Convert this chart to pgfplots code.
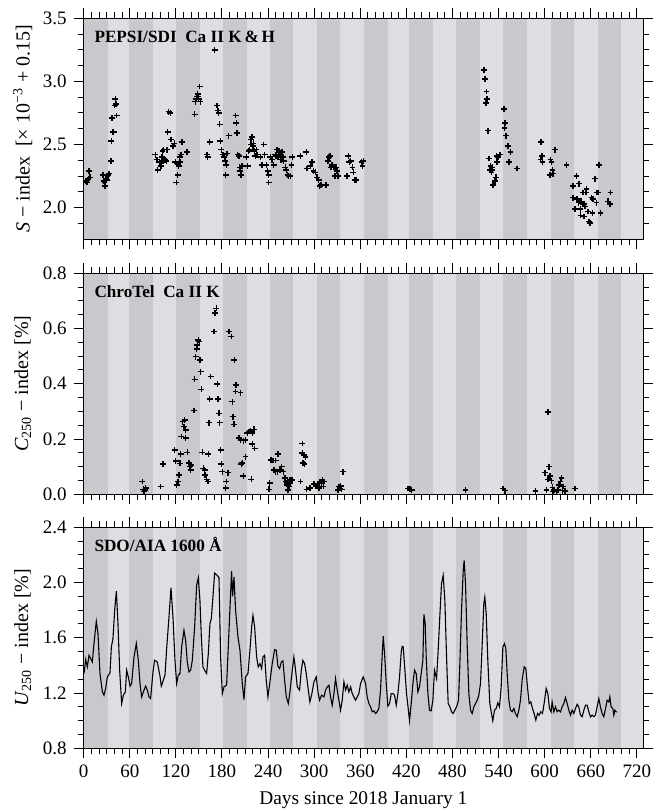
\documentclass[border=0pt]{standalone}
\usepackage{fontspec}
\setmainfont{Liberation Serif}
\usepackage{pgfplots}
\pgfplotsset{compat=1.18}
\definecolor{bandDark}{RGB}{200,201,204}
\definecolor{bandLight}{RGB}{221,222,225}
\newcommand{\band}[2]{\addplot[draw=none, fill=bandDark, forget plot] coordinates {(#1,-10) (#2,-10) (#2,10) (#1,10)} -- cycle;}
\newcommand{\bands}{%
\band{0}{31}\band{59}{90}\band{120}{151}\band{181}{212}\band{243}{273}\band{304}{334}%
\band{365}{396}\band{424}{455}\band{485}{516}\band{546}{577}\band{608}{638}\band{669}{699}}
\tikzset{ptitle/.style={anchor=base west, font=\bfseries\fontsize{8.6}{10}\selectfont, inner sep=0pt, xshift=5.2pt, yshift=-12pt}}
\pgfplotsset{
 panel/.style={
  scale only axis, width=279.65pt, height=110.5pt,
  xmin=0, xmax=728,
  xtick={0,60,...,720}, minor x tick num=5,
  tick align=outside,
  major tick length=5pt, minor tick length=3pt,
  axis background/.style={fill=bandLight},
  axis on top,
  axis line style={line width=0.5pt},
  every tick/.append style={black, line width=0.5pt},
  tick label style={font=\fontsize{9.5}{10}\selectfont},
  label style={font=\fontsize{9.7}{11}\selectfont},
  /pgf/number format/assume math mode=true,
  /pgf/number format/fixed, /pgf/number format/fixed zerofill, /pgf/number format/precision=1,
  every axis y label/.style={at={(axis description cs:-0.109,0.5)}, rotate=90, anchor=center},
 },
 pts/.style={only marks, mark=+, mark size=1.45pt, black, mark options={line width=0.75pt}},
}
\begin{document}
\begin{tikzpicture}
\useasboundingbox (0,0) rectangle (332.5pt,405pt);
% ---------------- Panel 1 ----------------
\begin{axis}[panel, at={(41.85pt,285.35pt)}, anchor=south west,
  ymin=1.75, ymax=3.5, ytick={2.0,2.5,3.0,3.5},
  minor ytick={1.875,2.125,2.25,2.375,2.625,2.75,2.875,3.125,3.25,3.375},
  xticklabels={},
  ylabel={\textit{S} − index\ \ [× 10\textsuperscript{−3} + 0.15]}]
\bands
\addplot[pts] coordinates {
(3,2.21) (4,2.20) (5,2.22) (6,2.23) (7,2.29) (8,2.24)
(25,2.26) (26,2.21) (27,2.20) (28,2.17) (29,2.23) (30,2.22) (31,2.25) (32,2.26) (33,2.27)
(35.6,2.37) (36,2.53) (37.7,2.60) (39,2.60) (37,2.71) (43,2.73) (40.3,2.81) (41.2,2.86) (42,2.82)
(93.2,2.42) (95.4,2.38) (96.3,2.30) (98.9,2.36) (100.6,2.33) (101.9,2.40) (104,2.46) (106,2.38)
(107.6,2.37) (109.3,2.60) (110.6,2.76) (112.8,2.75) (113.6,2.54) (116.2,2.49) (118,2.51) (119.3,2.36)
(120.6,2.20) (122.3,2.26) (123.6,2.33) (124.9,2.40) (126.6,2.42) (128,2.52) (134.5,2.44) (104.5,2.39)
(103,2.37) (121.5,2.35) (125.5,2.36) (102.5,2.45) (108.5,2.46)
(144.4,2.74) (145.3,2.84) (146.6,2.86) (147.5,2.88) (148.3,2.90) (149.6,2.86) (150.9,2.96) (151.8,2.84) (149,2.88)
(160.5,2.42) (161.3,2.40) (163.9,2.52) (170.4,3.25)
(173.5,2.81) (174.8,2.77) (175.6,2.75) (176.9,2.66) (177.8,2.53) (179.1,2.46) (181.3,2.42) (183,2.40)
(184.3,2.37) (185.6,2.34) (186.5,2.43) (184.8,2.26) (188.7,2.57)
(197.8,2.73) (198.6,2.67) (199.5,2.59) (200.4,2.42) (202.1,2.41) (203,2.32) (203.8,2.29) (204.7,2.26) (206,2.33)
(211.6,2.40) (213.4,2.33) (214.7,2.45) (216,2.46) (217.7,2.54) (219,2.56) (220.3,2.49) (222,2.45)
(223.4,2.41) (224.7,2.46) (225.5,2.42) (218,2.50) (221,2.51)
(229.9,2.40) (232,2.34) (234.2,2.50) (235.5,2.42) (237.7,2.34) (239.4,2.29) (240.7,2.26) (240.7,2.20)
(242.9,2.40) (245,2.38) (247.2,2.34) (249.4,2.42) (251.5,2.46) (252.8,2.40) (253.7,2.44) (255.9,2.42)
(256.8,2.38) (258,2.44) (259.4,2.40) (260.2,2.37) (262.4,2.32) (263.7,2.30) (265.4,2.26) (266.7,2.25)
(268.9,2.25) (270.6,2.34) (271.5,2.40) (254.5,2.45) (257,2.41) (250,2.41)
(281.9,2.41) (289.7,2.44) (290.6,2.31) (294.9,2.33) (297.1,2.36) (299.2,2.29) (301.4,2.28) (303.6,2.24)
(305.8,2.22) (307.1,2.17) (308.8,2.18) (315.7,2.18) (317.9,2.37) (319.6,2.40) (321.8,2.32) (323.1,2.34)
(320.5,2.41) (322.7,2.33) (325.7,2.32) (328.3,2.32) (330,2.29) (327,2.25) (331.3,2.25)
(343,2.25) (344.4,2.41) (345.7,2.36) (347.4,2.37) (350,2.32) (350.9,2.28) (353,2.22) (355.2,2.22)
(361.7,2.36) (363,2.33) (363.9,2.37)
(520.9,3.09) (522.2,3.02) (524.3,2.92) (525.2,2.86) (523.5,2.83) (526.5,2.61) (527.8,2.39) (528.7,2.30)
(530.8,2.28) (532.1,2.32) (533,2.18) (535.2,2.21) (536.5,2.24) (538.2,2.36) (539.5,2.40) (541.7,2.42)
(537.4,2.41) (529.5,2.33) (531.5,2.30)
(546.9,2.78) (548.2,2.67) (547.8,2.63) (549.5,2.57) (552.5,2.49) (555.6,2.44) (553.8,2.36) (564.2,2.31)
(595,2.52) (596.3,2.41) (594.6,2.38) (597.2,2.36) (607.6,2.38) (608.9,2.36) (610.2,2.30) (606.7,2.26)
(611.1,2.27) (613.3,2.46) (628.4,2.34)
(641.4,2.25) (637.1,2.17) (644.9,2.19) (637.1,2.08) (642.3,2.07) (645.8,2.05) (650.1,2.12) (653.6,2.12)
(654.4,2.15) (639.3,1.99) (646.6,1.99) (649.3,2.03) (651,2.03) (652.3,2.01) (646.6,1.94) (651,1.93)
(656.6,1.97) (658.8,1.88) (657.9,1.89) (661,2.08) (663.1,2.07) (662.3,1.96) (665.3,2.23) (667.5,2.12)
(669.6,2.12) (667.5,2.04) (671,2.34) (672.7,1.96) (682.6,2.05) (685.7,2.12) (684.8,2.03) (648,2.05) (644,2.04)
};
\node[ptitle] at (rel axis cs:0,1) {PEPSI/SDI\ \ Ca II K\,\&\,H};
\end{axis}
% ---------------- Panel 2 ----------------
\begin{axis}[panel, at={(41.85pt,157.85pt)}, anchor=south west,
  ymin=0, ymax=0.8, ytick={0,0.2,0.4,0.6,0.8},
  minor ytick={0.05,0.1,0.15,0.25,0.3,0.35,0.45,0.5,0.55,0.65,0.7,0.75},
  xticklabels={},
  ylabel={\textit{C}\textsubscript{250} − index [\%]}]
\bands
\addplot[pts] coordinates {
(76.3,0.046) (77.6,0.018) (79.3,0.016) (80.6,0.022) (78.5,0.010)
(100.2,0.028) (103.2,0.110) (118.4,0.160) (119.7,0.120) (121,0.034) (122.7,0.046) (124,0.070)
(126.2,0.145) (125.3,0.112) (127,0.209) (128.8,0.263) (131.4,0.269) (130.5,0.245) (132.7,0.233)
(132.7,0.203) (134.8,0.152) (137,0.114) (138.3,0.100) (139.2,0.088) (140.1,0.106)
(143.5,0.303) (144.4,0.416) (145.7,0.498) (147,0.525) (147.9,0.540) (149.2,0.559) (150.5,0.553)
(151.3,0.486) (152.2,0.444) (153.1,0.380) (154.4,0.152) (155.7,0.094) (157.4,0.088) (157.8,0.070)
(160,0.054) (161.7,0.046) (162.2,0.145) (163.9,0.345) (163,0.259) (165.2,0.426)
(169.5,0.589) (170.8,0.657) (172.6,0.673) (173.9,0.400) (174.8,0.345) (176,0.293) (176.9,0.259)
(178.2,0.160) (179.1,0.110) (180.4,0.082) (184.7,0.022) (185.6,0.046) (187.8,0.078)
(189,0.589) (192.1,0.571) (193.4,0.335) (194.3,0.281) (195.6,0.253) (196,0.486) (198.2,0.396) (197.7,0.372)
(204.2,0.368) (202.1,0.203) (204.2,0.197) (207.7,0.194) (210.7,0.197) (212.9,0.221) (215.1,0.227)
(217.3,0.230) (219.4,0.221) (221.6,0.235) (219.4,0.182) (222.5,0.166) (210.7,0.136) (206.4,0.114)
(205.1,0.110) (207.7,0.066) (218.1,0.054)
(242,0.040) (241.1,0.018) (244.1,0.124) (246.7,0.122) (249.8,0.122) (252.8,0.146) (247.6,0.088)
(249.8,0.082) (252,0.082) (255.4,0.088) (257.6,0.100) (259.8,0.082) (262,0.058) (262.8,0.046)
(264.1,0.040) (265,0.034) (265.8,0.016) (267.1,0.028) (269.3,0.040) (271.4,0.052) (268.4,0.052)
(282.3,0.046) (284.5,0.184) (284.5,0.150) (286.6,0.142) (288.8,0.134) (285.3,0.114) (287.5,0.110)
(290.1,0.018) (294.4,0.022) (299.7,0.037) (301.8,0.028) (304,0.034) (306.2,0.022) (307.5,0.046)
(309.2,0.040) (310.5,0.052) (312.7,0.046) (311.8,0.028)
(331.3,0.015) (333.5,0.021) (335.7,0.018) (332.6,0.028) (337.8,0.082) (334.4,0.030)
(422.4,0.021) (424.6,0.018) (426.8,0.015) (497,0.015) (546,0.021) (548.2,0.013) (588.1,0.011)
(600.2,0.078) (602.4,0.015) (604.6,0.297) (605.9,0.100) (604.6,0.054) (606.7,0.066) (608.9,0.049)
(610.2,0.025) (611.1,0.010) (612.4,0.015) (615.4,0.010) (617.6,0.015) (618.9,0.034) (620.6,0.046)
(621.9,0.058) (623.2,0.013) (624.1,0.028) (626.3,0.012) (639.3,0.021)
};
\node[ptitle] at (rel axis cs:0,1) {ChroTel\ \ Ca II K};
\end{axis}
% ---------------- Panel 3 ----------------
\begin{axis}[panel, at={(41.85pt,30.85pt)}, anchor=south west,
  ymin=0.8, ymax=2.4, ytick={0.8,1.2,1.6,2.0,2.4},
  minor ytick={0.9,1.0,1.1,1.3,1.4,1.5,1.7,1.8,1.9,2.1,2.2,2.3},
  xticklabels={0,60,120,180,240,300,360,420,480,540,600,660,720},
  xlabel={Days since 2018 January 1},
  ylabel={\textit{U}\textsubscript{250} − index [\%]}]
\bands
\addplot[black, line width=0.55pt] coordinates {
(0.4,1.341) (2.6,1.442) (4.7,1.389) (6.9,1.473) (9.1,1.449) (11.2,1.425) (13.4,1.558) (16.4,1.719)
(18.6,1.63) (21.2,1.341) (24.3,1.208) (26.4,1.184) (28.6,1.233) (30.8,1.317) (34.2,1.346) (36,1.534)
(38.1,1.594) (40.3,1.799) (42.5,1.938) (44.6,1.702) (46.8,1.365) (49.4,1.124) (51.6,1.184) (54.2,1.208)
(55.9,1.365) (58.1,1.317) (60.3,1.25) (62.4,1.269) (65.5,1.461) (68.5,1.558) (71.1,1.437) (73.3,1.269)
(75.4,1.172) (78.5,1.221) (80.6,1.25) (82.8,1.221) (85,1.172) (87.1,1.16) (90.2,1.353) (92.3,1.437)
(95.8,1.425) (99.3,1.322) (101,1.25) (103.6,1.293) (105.8,1.329) (108,1.522) (111,1.75) (113.6,1.962)
(116.2,1.75) (118.8,1.437) (121,1.269) (123.1,1.329) (125.3,1.341) (127.5,1.534) (130.5,1.654)
(132.7,1.582) (134.8,1.425) (137,1.353) (139.2,1.365) (141.4,1.437) (144.4,1.678) (147,1.979)
(149.2,2.035) (151.3,1.871) (153.1,1.606) (155.2,1.389) (157.4,1.365) (160,1.341) (162.2,1.485)
(164.3,1.702) (166.1,1.738) (168.2,1.895) (170.4,2.068) (173.9,2.052) (176.1,2.035) (178.2,1.461)
(180.4,1.196) (182.6,1.245) (186,1.257) (188.2,1.534) (191.2,1.919) (192.5,2.083) (193.8,1.9)
(195.6,2.04) (197.7,1.799) (200.8,1.606) (203.4,1.51) (206.4,1.269) (208.6,1.153) (210.7,1.317)
(213.8,1.341) (216.4,1.51) (218.6,1.678) (220.3,1.762) (222.5,1.678) (225.1,1.461) (227.2,1.389)
(229.4,1.413) (231.6,1.377) (233.3,1.461) (235.5,1.473) (237.6,1.293) (239.8,1.172) (242.4,1.281)
(245.4,1.413) (248.5,1.514) (250.6,1.51) (252.8,1.394) (255,1.377) (257.2,1.425) (259.3,1.433)
(261.5,1.293) (263.7,1.172) (266.3,1.124) (268.4,1.208) (271.5,1.365) (273.6,1.461) (275.8,1.365)
(278,1.245) (281,1.221) (283.2,1.365) (285.3,1.437) (287.5,1.413) (289.7,1.341) (291.8,1.245)
(294.4,1.136) (296.6,1.184) (299.7,1.281) (302.7,1.317) (304.9,1.208) (307,1.148) (309.6,1.184)
(312.7,1.172) (314.8,1.221) (317,1.245) (319.2,1.257) (321.3,1.172) (323.5,1.112) (325.7,1.196)
(327.8,1.305) (330,1.221) (332.2,1.148) (334.3,1.076) (336.5,1.148) (338.7,1.281) (340.9,1.221)
(343,1.257) (345.2,1.208) (347.4,1.245) (349.5,1.196) (351.7,1.172) (353.9,1.148) (356,1.172)
(358.2,1.196) (360.4,1.269) (363.8,1.317)
(366.9,1.269) (369,1.172) (371.2,1.124) (373.4,1.1) (375.5,1.064) (377.7,1.071) (379.9,1.052)
(382,1.064) (384.2,1.088) (386.4,1.221) (388.6,1.485) (389.9,1.611) (391.6,1.485) (393.8,1.269)
(395.9,1.105) (398.1,1.124) (400.3,1.196) (402.4,1.196) (404.6,1.184) (406.8,1.112) (409,1.196)
(411.1,1.317) (413.3,1.498) (414.6,1.538) (415.9,1.534) (418.1,1.365) (420.2,1.196) (422.4,1.088)
(424.1,0.999) (426.3,1.124) (428.5,1.269) (430.6,1.365) (432.8,1.341) (435,1.208) (437.1,1.245)
(439.3,1.341) (441.5,1.437) (442.8,1.77) (444.5,1.702) (445.8,1.461) (448,1.196) (450.1,1.076)
(452.3,1.071) (454.5,1.148) (456.6,1.365) (459.3,1.305) (461.4,1.51) (463.6,1.762) (465.7,1.991)
(467.9,2.052) (470.1,1.871) (472.3,1.461) (474.4,1.124) (476.6,1.1) (478.8,1.064) (481,1.052)
(483.1,1.076) (485.3,1.1) (487.9,1.148) (489.6,1.413) (491.8,1.799) (494,2.088) (495.2,2.16)
(497,1.991) (499.1,1.558) (501.3,1.196) (503.5,1.076) (505.7,1.052) (507.8,1.1) (510,1.124)
(512.2,1.148) (514.3,1.184) (516.5,1.269) (518.7,1.558) (520.8,1.847) (522.1,1.895) (523.9,1.775)
(526,1.437) (528.6,1.124) (530.8,1.052) (532.5,0.999) (534.7,1.076) (536.9,1.088) (539,1.129)
(541.2,1.1) (543.4,1.245) (545.6,1.534) (547.7,1.558) (549.5,1.522) (551.2,1.341) (553.4,1.148)
(555.5,1.076) (557.7,1.064) (559.9,1.088) (562,1.052) (564.2,1.028) (566.4,1.076) (568.5,1.148)
(570.7,1.293) (573.3,1.389) (575.5,1.377) (577.6,1.245) (579.8,1.124) (582,1.136) (584.1,1.088)
(586.3,1.052) (588.5,1.004) (590.7,1.052) (592.8,1.04) (595,1.064) (597.2,1.052) (599.3,1.124)
(602,1.233) (604.1,1.196) (606.3,1.088) (608.4,1.064) (609.7,1.136) (611.9,1.064) (614.1,1.1)
(616.2,1.064) (618.4,1.076) (620.6,1.064) (622.7,1.1) (624.9,1.124) (627.1,1.167) (629.3,1.124)
(631.4,1.076) (633.6,1.04) (635.8,1.076) (637.9,1.052) (640.1,1.088) (642.3,1.119) (644.4,1.1)
(646.6,1.04) (648.8,1.028) (651,1.076) (653.1,1.112) (655.3,1.112) (657.5,1.064) (659.6,1.028)
(661.8,1.04) (664,1.028) (666.1,1.04) (668.3,1.1) (670.5,1.16) (672.6,1.1) (674.8,1.052) (677,1.028)
(679.2,1.088) (681.3,1.148) (683.5,1.136) (684.8,1.172) (686.5,1.1) (688.7,1.088) (690,1.04)
(691.3,1.076) (693,1.064) (694.3,1.064)
};
\node[ptitle] at (rel axis cs:0,1) {SDO/AIA 1600 Å};
\end{axis}
\end{tikzpicture}
\end{document}
